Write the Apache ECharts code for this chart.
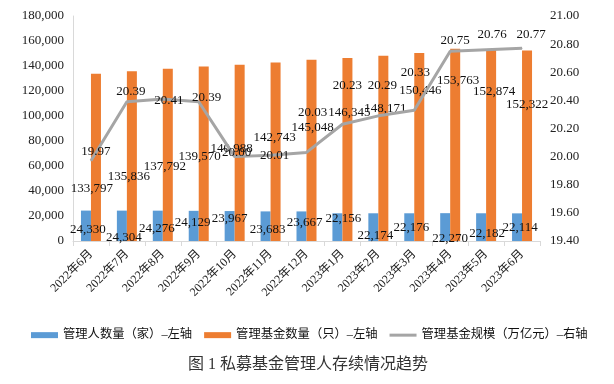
<!DOCTYPE html>
<html>
<head>
<meta charset="utf-8">
<script src="https://cdn.jsdelivr.net/npm/echarts@6/dist/echarts.min.js"></script>
<style>
html,body{margin:0;padding:0;background:#fff;}
#c{width:614px;height:384px;}
</style>
</head>
<body>
<div id="c"></div>
<script>
// ---- data ----
var categories = ['2022年6月','2022年7月','2022年8月','2022年9月','2022年10月','2022年11月','2022年12月','2023年1月','2023年2月','2023年3月','2023年4月','2023年5月','2023年6月'];
var managers = [24330, 24304, 24276, 24129, 23967, 23683, 23667, 22156, 22174, 22176, 22270, 22182, 22114];
var funds = [133797, 135836, 137792, 139570, 140988, 142743, 145048, 146345, 148171, 150446, 153763, 152874, 152322];
var scale = [19.97, 20.39, 20.41, 20.39, 20.00, 20.01, 20.03, 20.23, 20.29, 20.33, 20.75, 20.76, 20.77];
var leftTicks = [0, 180000, 20000];
var rightTicks = [19.4, 21.0, 0.2];
var seriesNames = ['管理人数量（家）–左轴', '管理基金数量（只）–左轴', '管理基金规模（万亿元）–右轴'];
var chartTitle = '图 1 私募基金管理人存续情况趋势';

// ---- label layout (nudges in px, as in the reference) ----
var nudgeBlue = [[2,4],[2,12],[-1,3],[-1,-3],[0,-7],[2,3],[3,-4],[6,-9],[2,8],[2,0],[5,11],[6,6],[3,0]];
var nudgeOrange = [[-4,31],[-3,20],[-3,12],[-4,3],[-8,-4],[-1,-14],[1,-23],[2,-37],[2,-40],[1,-56],[3,-64],[3,-54],[0,-41]];
var nudgeLine = [[5,-9],[4,-10],[6,2],[8,-4],[2,-4],[4,0],[6,-40],[5,-39],[4,-30],[1,-38],[5,-11],[6,-15],[9,-14]];

var numFont = '"Liberation Serif","Times New Roman","Noto Sans CJK SC",serif';
var cjkFont = '"Liberation Serif","Noto Sans CJK SC",serif';

function fmtInt(v){ return String(v).replace(/\B(?=(\d{3})+(?!\d))/g, ','); }

function withLabels(vals, nudges, fmt){
  return vals.map(function(v, i){
    return { value: v, label: { offset: nudges[i], formatter: fmt(v) } };
  });
}

var chart = echarts.init(document.getElementById('c'), null, {renderer:'canvas'});
var lblStyle = { show: true, position: 'inside', color: '#111', fontSize: 13, fontFamily: numFont };

chart.setOption({
  animation: false,
  backgroundColor: '#fff',
  title: {
    text: chartTitle, left: 183, top: 352,
    textStyle: { fontSize: 16, fontWeight: 'normal', color: '#333', fontFamily: cjkFont }
  },
  legend: {
    left: 26, top: 324, width: 600, itemWidth: 27, itemHeight: 6, itemGap: 12,
    symbolKeepAspect: true,
    textStyle: { fontSize: 12.3, color: '#111', fontWeight: 'normal', fontFamily: cjkFont },
    data: [
      { name: seriesNames[0], icon: 'rect' },
      { name: seriesNames[1], icon: 'rect' },
      { name: seriesNames[2], icon: 'path://M0,0H54V6H0Z' }
    ]
  },
  grid: { left: 73, right: 74, top: 16, bottom: 143, containLabel: false },
  xAxis: {
    type: 'category', data: categories,
    axisLine: { lineStyle: { color: '#d9d9d9' } },
    axisTick: { show: true, alignWithLabel: false, length: 5, lineStyle: { color: '#d9d9d9' } },
    axisLabel: { rotate: 45, fontSize: 12, color: '#222', margin: 11, interval: 0, fontFamily: cjkFont }
  },
  yAxis: [
    {
      type: 'value', min: leftTicks[0], max: leftTicks[1], interval: leftTicks[2],
      axisLine: { show: true, lineStyle: { color: '#d9d9d9' } },
      axisTick: { show: false },
      splitLine: { show: false },
      axisLabel: { fontSize: 13, color: '#222', margin: 9, fontFamily: numFont, formatter: function(v){ return fmtInt(v); } }
    },
    {
      type: 'value', min: rightTicks[0], max: rightTicks[1], interval: rightTicks[2],
      axisLine: { show: false }, axisTick: { show: false }, splitLine: { show: false },
      axisLabel: { fontSize: 13, color: '#222', margin: 10, fontFamily: numFont, formatter: function(v){ return v.toFixed(2); } }
    }
  ],
  series: [
    {
      name: seriesNames[0], type: 'bar', yAxisIndex: 0, barWidth: 10, barGap: '0%',
      itemStyle: { color: '#5B9BD5' },
      label: lblStyle,
      data: withLabels(managers, nudgeBlue, fmtInt), z: 2
    },
    {
      name: seriesNames[1], type: 'bar', yAxisIndex: 0, barWidth: 10, barGap: '0%',
      itemStyle: { color: '#ED7D31' },
      label: lblStyle,
      data: withLabels(funds, nudgeOrange, fmtInt), z: 2
    },
    {
      name: seriesNames[2], type: 'line', yAxisIndex: 1,
      symbol: 'circle', symbolSize: 1, showSymbol: true,
      lineStyle: { color: '#A5A5A5', width: 3 },
      itemStyle: { color: '#A5A5A5' },
      label: lblStyle,
      data: withLabels(scale, nudgeLine, function(v){ return v.toFixed(2); }), z: 3
    }
  ]
});
</script>
</body>
</html>
